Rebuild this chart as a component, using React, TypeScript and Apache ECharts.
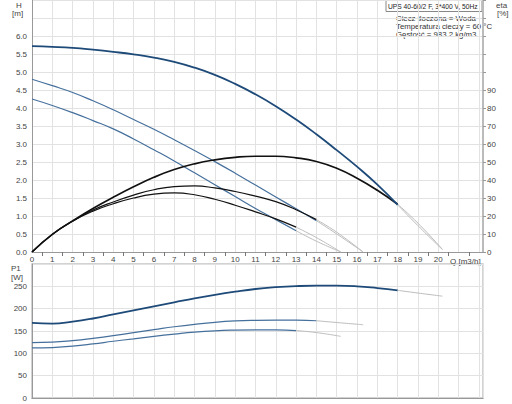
import React, { useEffect, useRef } from "react";
import * as echarts from "echarts";

// Q [m3/h] sample points and values
const qMax = [0, 1, 2, 3, 4, 5, 6, 7, 8, 9, 10, 11, 12, 13, 14, 15, 16, 17, 18, 19, 20.2];
const hMax = [5.72, 5.7, 5.67, 5.62, 5.56, 5.49, 5.4, 5.28, 5.12, 4.92, 4.67, 4.38, 4.05, 3.68, 3.27, 2.83, 2.37, 1.87, 1.31, 0.73, 0.07];
const etaMax = [0, 9.8, 17.3, 24.2, 30.4, 36.2, 41.5, 45.8, 49, 51.2, 52.6, 53.2, 53.2, 52.3, 50.3, 46.5, 41, 34.3, 26.5, 16, 1.5];
const pMax = [168, 166.5, 171, 178, 187, 196, 205, 214, 223, 231, 238, 244, 248, 250.5, 251.5, 251.5, 250, 246, 241, 235, 228];

const qMid = [0, 1, 2, 3, 4, 5, 6, 7, 8, 9, 10, 11, 12, 13, 14, 15, 16.3];
const hMid = [4.8, 4.62, 4.43, 4.2, 3.95, 3.68, 3.41, 3.12, 2.82, 2.51, 2.19, 1.86, 1.53, 1.2, 0.87, 0.5, 0];
const etaMid = [0, 9.8, 17.2, 23.3, 27.8, 31.6, 34.6, 36.3, 36.7, 35.6, 33.6, 31, 28, 23.5, 18, 11, 0];
const pMid = [124, 125, 128.5, 133.5, 139.5, 146.5, 153, 159.5, 165, 169.5, 172.5, 174, 174.5, 174.5, 173, 169, 164];

const qLow = [0, 1, 2, 3, 4, 5, 6, 7, 8, 9, 10, 11, 12, 13, 14, 15.2];
const hLow = [4.25, 4.07, 3.87, 3.65, 3.42, 3.14, 2.84, 2.53, 2.2, 1.87, 1.54, 1.21, 0.9, 0.59, 0.3, 0];
const etaLow = [0, 9.8, 17.1, 22.7, 26.8, 30, 32.1, 32.8, 31.8, 29.3, 26, 22.3, 18.4, 13.8, 8, 0];
const pLow = [112, 113, 116, 121, 127, 132.5, 138, 143, 147.5, 150.5, 152, 152.5, 152.5, 151, 146.5, 138];

// Q up to which each speed curve is drawn dark (beyond: grey)
const limitMax = 18;
const limitMid = 14;
const limitLow = 13;

const hTicks = [0, 0.5, 1, 1.5, 2, 2.5, 3, 3.5, 4, 4.5, 5, 5.5, 6];
const etaTicks = [0, 10, 20, 30, 40, 50, 60, 70, 80, 90];
const pTicks = [0, 50, 100, 150, 200, 250];
const qTicks = [0, 1, 2, 3, 4, 5, 6, 7, 8, 9, 10, 11, 12, 13, 14, 15, 16, 17, 18, 19, 20];

const title = "UPS 40-60/2 F, 3*400 V, 50Hz";
const infoLines = ["Ciecz tłoczona = Woda", "Temperatura cieczy = 60 °C", "Gęstość = 983.2 kg/m3"];

const FONT = "Liberation Sans, Arial, sans-serif";
const DARK = "#1d4a78";
const MIDBLUE = "#46709c";
const BLACK = "#111111";
const GREY = "#bdbdbd";

function part(qs: number[], vs: number[], lim: number, dark: boolean) {
  const out: number[][] = [];
  qs.forEach((q, i) => {
    if (dark ? q <= lim : q >= lim) out.push([q, vs[i]]);
  });
  return out;
}

function curve(
  qs: number[], vs: number[], lim: number, color: string, width: number,
  xAxisIndex: number, yAxisIndex: number
) {
  const base = {
    type: "line", xAxisIndex, yAxisIndex, showSymbol: false, smooth: 0.5, silent: true,
  };
  return [
    { ...base, data: part(qs, vs, lim, true), lineStyle: { color, width } },
    { ...base, data: part(qs, vs, lim, false), lineStyle: { color: GREY, width: 1 } },
  ];
}

export default function App() {
  const ref = useRef<HTMLDivElement>(null);
  useEffect(() => {
    if (!ref.current) return;
    const chart = echarts.init(ref.current, undefined, { renderer: "svg" });
    const labelStyle = { fontSize: 8, color: "#444", fontFamily: FONT };
    const xCommon = {
      type: "value", min: 0, max: 22.2, interval: 1,
      axisLine: { show: true, lineStyle: { color: "#999", width: 1 } },
      axisTick: { show: false },
      splitLine: { show: true, lineStyle: { color: "#e2e2e2", width: 1 } },
    };
    const txt = (text: string, x: number, y: number, size = 8, fill = "#444") => ({
      type: "text", x, y, silent: true, style: { text, fill, font: `${size}px ${FONT}` },
    });
    const option: any = {
      animation: false,
      textStyle: { fontFamily: FONT },
      grid: [
        { left: 32, right: 29, top: 0, height: 252, show: false },
        { left: 32, right: 29, top: 264, height: 134, show: true, borderColor: "#c4c4c4", borderWidth: 1.5, backgroundColor: "transparent" },
      ],
      xAxis: [
        {
          ...xCommon, gridIndex: 0,
          minorTick: { show: true, splitNumber: 2, length: 4, lineStyle: { color: "#777" } },
          axisLabel: {
            ...labelStyle, margin: 3,
            formatter: (v: number) => (qTicks.includes(v) ? String(v) : ""),
          },
        },
        { ...xCommon, gridIndex: 1, axisLabel: { show: false } },
      ],
      yAxis: [
        {
          type: "value", gridIndex: 0, min: 0, max: 7, interval: 0.5, position: "left",
          axisLine: { show: true, lineStyle: { color: "#999" } },
          axisTick: { show: false },
          splitLine: { show: true, lineStyle: { color: "#e2e2e2" } },
          axisLabel: { ...labelStyle, margin: 5, formatter: (v: number) => (hTicks.includes(v) ? v.toFixed(1) : "") },
        },
        {
          type: "value", gridIndex: 0, min: 0, max: 140, interval: 10, position: "right",
          axisLine: { show: true, lineStyle: { color: "#bbbbbb", width: 2 } },
          axisTick: { show: true, length: 3, lineStyle: { color: "#999" } },
          splitLine: { show: false },
          axisLabel: { ...labelStyle, margin: 4, formatter: (v: number) => (etaTicks.includes(v) ? String(v) : "") },
        },
        {
          type: "value", gridIndex: 1, min: 0, max: 300, interval: 50, position: "left",
          axisLine: { show: true, lineStyle: { color: "#999" } },
          axisTick: { show: false },
          splitLine: { show: true, lineStyle: { color: "#e2e2e2" } },
          axisLabel: { ...labelStyle, margin: 5, formatter: (v: number) => (pTicks.includes(v) ? String(v) : "") },
        },
      ],
      series: [
        ...curve(qLow, hLow, limitLow, MIDBLUE, 1.2, 0, 0),
        ...curve(qMid, hMid, limitMid, MIDBLUE, 1.2, 0, 0),
        ...curve(qLow, etaLow, limitLow, BLACK, 1.2, 0, 1),
        ...curve(qMid, etaMid, limitMid, BLACK, 1.2, 0, 1),
        ...curve(qMax, etaMax, limitMax, BLACK, 1.7, 0, 1),
        ...curve(qMax, hMax, limitMax, DARK, 1.8, 0, 0),
        ...curve(qLow, pLow, limitLow, MIDBLUE, 1.2, 1, 2),
        ...curve(qMid, pMid, limitMid, MIDBLUE, 1.2, 1, 2),
        ...curve(qMax, pMax, limitMax, DARK, 1.8, 1, 2),
      ],
      graphic: [
        txt("H", 16, 1),
        txt("[m]", 12, 9),
        txt("eta", 496, 1),
        txt("[%]", 497, 9),
        txt("P1", 11, 264),
        txt("[W]", 11, 273),
        txt("Q [m3/h]", 450, 257),
        {
          type: "rect", silent: true, shape: { x: 386, y: 0.5, width: 96, height: 11 },
          style: { fill: "#fff", stroke: "#888", lineWidth: 1 },
        },
        txt(title, 388, 2.5, 6.7, "#222"),
        ...infoLines.map((t, i) => txt(t, 396, 14 + i * 8.2, 7.8, "#333")),
      ],
    };
    chart.setOption(option);
    return () => chart.dispose();
  }, []);
  return (
    <div
      ref={ref}
      style={{ position: "fixed", left: 0, top: 0, width: 512, height: 404, background: "#fff" }}
    />
  );
}
